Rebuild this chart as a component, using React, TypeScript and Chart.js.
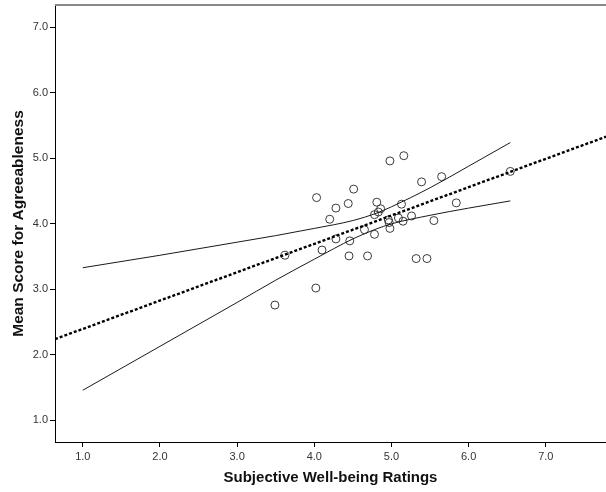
import React, { useEffect, useRef } from "react";
import { Chart, registerables } from "chart.js";

Chart.register(...registerables);

// Scatter observations (Subjective Well-being, Mean Agreeableness)
const wellbeing = [
  4.98, 5.16, 5.65, 5.39, 4.03, 4.51, 4.28, 4.44, 4.81, 5.13, 4.2, 4.86, 4.83, 4.78, 4.96, 4.97, 5.09, 5.15,
  5.26, 5.55, 4.98, 4.65, 4.78, 4.28, 4.46, 4.1, 3.62, 4.45, 4.69, 5.32, 5.46, 4.02, 3.49, 6.54, 5.84,
];
const agreeableness = [
  4.96, 5.04, 4.72, 4.64, 4.4, 4.53, 4.24, 4.31, 4.33, 4.3, 4.07, 4.23, 4.18, 4.14, 4.06, 4.02, 4.09, 4.04,
  4.12, 4.05, 3.93, 3.91, 3.84, 3.77, 3.74, 3.6, 3.52, 3.51, 3.51, 3.47, 3.47, 3.02, 2.76, 4.8, 4.32,
];

// Fit line (dotted) across the whole plot
const fitX = [0.64, 7.78];
const fitY = [2.24, 5.33];

// Confidence band of the mean
const ciX = [1.0, 2.0, 3.0, 3.5, 4.0, 4.5, 4.8, 5.0, 5.5, 6.0, 6.54];
const ciUpper = [3.33, 3.52, 3.72, 3.82, 3.93, 4.05, 4.16, 4.26, 4.55, 4.88, 5.24];
const ciLower = [1.46, 2.13, 2.8, 3.14, 3.46, 3.77, 3.92, 4.0, 4.13, 4.24, 4.35];

const xTicks = [1, 2, 3, 4, 5, 6, 7];
const yTicks = [1, 2, 3, 4, 5, 6, 7];

const xTitle = "Subjective Well-being Ratings";
const yTitle = "Mean Score for Agreeableness";

const FONT = "'Liberation Sans', Arial, sans-serif";

const topBorder = {
  id: "topBorder",
  afterDraw(chart: any) {
    const { ctx, chartArea } = chart;
    ctx.save();
    ctx.strokeStyle = "#888888";
    ctx.lineWidth = 2;
    ctx.beginPath();
    ctx.moveTo(chartArea.left, chartArea.top);
    ctx.lineTo(chartArea.right, chartArea.top);
    ctx.stroke();
    ctx.restore();
  },
};

export default function App() {
  const ref = useRef<HTMLCanvasElement>(null);

  useEffect(() => {
    if (!ref.current) return;
    const chart = new Chart(ref.current, {
      type: "scatter",
      data: {
        datasets: [
          {
            type: "line",
            data: ciX.map((x, i) => ({ x, y: ciUpper[i] })),
            borderColor: "#1a1a1a",
            borderWidth: 1,
            pointRadius: 0,
            cubicInterpolationMode: "monotone",
            fill: false,
          } as any,
          {
            type: "line",
            data: ciX.map((x, i) => ({ x, y: ciLower[i] })),
            borderColor: "#1a1a1a",
            borderWidth: 1,
            pointRadius: 0,
            cubicInterpolationMode: "monotone",
            fill: false,
          } as any,
          {
            type: "line",
            data: fitX.map((x, i) => ({ x, y: fitY[i] })),
            borderColor: "#000000",
            borderWidth: 2.4,
            borderDash: [3, 2],
            pointRadius: 0,
            fill: false,
          } as any,
          {
            type: "scatter",
            data: wellbeing.map((x, i) => ({ x, y: agreeableness[i] })),
            pointRadius: 4,
            pointBorderWidth: 1,
            pointBorderColor: "#3a3a3a",
            pointBackgroundColor: "rgba(255,255,255,0)",
          } as any,
        ],
      },
      options: {
        animation: false,
        responsive: false,
        maintainAspectRatio: false,
        layout: { padding: { top: 3, right: 0, left: 0, bottom: 0 } },
        plugins: { legend: { display: false }, tooltip: { enabled: false } },
        scales: {
          x: {
            type: "linear",
            min: 0.64,
            max: 7.78,
            afterBuildTicks: (s: any) => {
              s.ticks = xTicks.map((v) => ({ value: v }));
            },
            afterFit: (s: any) => {
              s.height = 50;
              s.paddingLeft = 0;
              s.paddingRight = 0;
            },
            ticks: {
              callback: (v: any) => Number(v).toFixed(1),
              font: { family: FONT, size: 11 },
              color: "#333333",
              padding: 3,
              maxRotation: 0,
            },
            grid: { display: true, drawOnChartArea: false, drawTicks: true, tickLength: 5, color: "#000000" },
            border: { display: true, color: "#000000", width: 1 },
            title: {
              display: true,
              text: xTitle,
              font: { family: FONT, size: 15, weight: "bold" },
              color: "#111111",
              padding: { top: 0, bottom: 5 },
            },
          },
          y: {
            type: "linear",
            min: 0.67,
            max: 7.34,
            afterBuildTicks: (s: any) => {
              s.ticks = yTicks.map((v) => ({ value: v }));
            },
            afterFit: (s: any) => {
              s.width = 55;
              s.paddingTop = 0;
              s.paddingBottom = 0;
            },
            ticks: {
              callback: (v: any) => Number(v).toFixed(1),
              font: { family: FONT, size: 11 },
              color: "#333333",
              padding: 2,
            },
            grid: { display: true, drawOnChartArea: false, drawTicks: true, tickLength: 5, color: "#000000" },
            border: { display: true, color: "#000000", width: 1 },
            title: {
              display: true,
              text: yTitle,
              font: { family: FONT, size: 15.5, weight: "bold" },
              color: "#111111",
              padding: { top: 9, bottom: 0 },
            },
          },
        },
      },
      plugins: [topBorder],
    });
    return () => chart.destroy();
  }, []);

  return (
    <div style={{ position: "fixed", left: 0, top: 0, width: 606, height: 492, background: "#fff", overflow: "hidden" }}>
      <canvas ref={ref} width={611} height={492} style={{ width: 611, height: 492, display: "block" }} />
    </div>
  );
}
